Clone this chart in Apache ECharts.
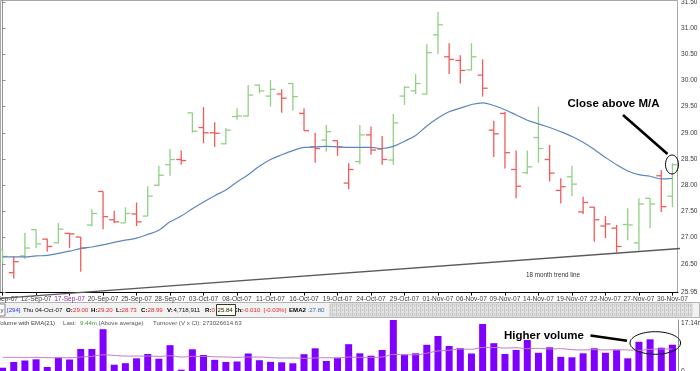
<!DOCTYPE html>
<html><head><meta charset="utf-8">
<script src="https://cdn.jsdelivr.net/npm/echarts@6/dist/echarts.min.js"></script>
<style>html,body{margin:0;padding:0;background:#fff}#c{width:700px;height:371px}</style>
</head><body><div id="c"></div>
<script>
// ---------- data ----------
const dates = ['07-Sep-07','10-Sep-07','11-Sep-07','12-Sep-07','13-Sep-07','14-Sep-07','17-Sep-07','18-Sep-07','19-Sep-07','20-Sep-07','21-Sep-07','24-Sep-07','25-Sep-07','26-Sep-07','27-Sep-07','28-Sep-07',
'01-Oct-07','02-Oct-07','03-Oct-07','04-Oct-07','05-Oct-07','08-Oct-07','09-Oct-07','10-Oct-07','11-Oct-07','12-Oct-07','15-Oct-07','16-Oct-07','17-Oct-07','18-Oct-07','19-Oct-07','22-Oct-07','23-Oct-07','24-Oct-07','25-Oct-07','26-Oct-07','29-Oct-07','30-Oct-07','31-Oct-07',
'01-Nov-07','02-Nov-07','05-Nov-07','06-Nov-07','07-Nov-07','08-Nov-07','09-Nov-07','12-Nov-07','13-Nov-07','14-Nov-07','15-Nov-07','16-Nov-07','19-Nov-07','20-Nov-07','21-Nov-07','22-Nov-07','23-Nov-07','26-Nov-07','27-Nov-07','28-Nov-07','29-Nov-07','30-Nov-07'];
const open  = [26.77,26.33,26.65,27.15,26.97,26.90,27.08,27.01,27.24,27.88,27.34,27.28,27.45,27.41,28.00,28.39,28.49,29.38,29.10,29.00,28.79,29.31,29.32,29.91,29.70,29.74,29.94,29.37,28.73,28.86,28.85,28.04,28.45,28.96,28.69,28.48,29.70,29.80,29.74,30.87,30.45,30.38,30.20,30.10,29.05,29.37,28.30,28.24,28.91,28.49,27.90,28.16,27.49,27.58,27.22,27.18,27.25,26.90,27.75,28.18,27.79];
const high  = [26.78,26.64,27.09,27.16,26.98,27.28,27.09,27.01,27.54,27.88,27.51,27.58,27.67,27.98,28.37,28.69,28.66,29.38,29.49,29.20,29.09,29.47,29.91,29.92,30.01,29.83,29.95,29.47,29.00,29.15,28.85,28.42,29.15,29.12,28.94,29.36,29.89,30.12,30.69,31.31,30.71,30.48,30.71,30.40,29.23,29.40,28.66,28.66,29.50,28.77,28.13,28.37,27.78,27.59,27.41,27.24,27.56,27.75,27.75,28.29,28.42];
const low   = [26.51,26.22,26.59,26.80,26.73,26.89,26.80,26.35,27.21,27.16,27.28,27.28,27.22,27.41,27.98,28.18,28.39,29.00,28.80,28.73,28.78,29.25,29.31,29.75,29.50,29.38,29.42,29.04,28.43,28.64,28.56,27.92,28.40,28.58,28.39,28.39,29.53,29.74,29.73,30.50,30.12,29.94,30.19,29.69,28.54,28.32,27.75,28.21,28.43,28.07,27.65,27.79,27.45,26.92,26.99,26.71,26.95,26.75,27.18,27.49,27.58];
const close = [26.64,26.54,26.80,26.88,26.83,27.16,27.07,26.80,27.46,27.40,27.30,27.46,27.30,27.79,28.19,28.49,28.47,29.03,29.00,28.99,29.05,29.32,29.72,29.80,29.83,29.66,29.69,29.04,28.70,29.02,28.73,28.30,28.96,28.67,28.49,29.19,29.87,29.94,30.53,31.06,30.40,30.19,30.45,29.85,28.98,28.62,27.98,28.35,28.70,28.23,27.97,28.02,27.67,27.34,27.26,26.83,27.24,27.64,27.64,27.59,28.39];
const ema21 = [26.63,26.63,26.63,26.65,26.66,26.70,26.74,26.79,26.82,26.86,26.91,26.95,26.99,27.06,27.14,27.30,27.41,27.55,27.68,27.80,27.91,28.06,28.20,28.36,28.49,28.58,28.66,28.72,28.73,28.74,28.73,28.72,28.72,28.72,28.70,28.74,28.84,28.95,29.13,29.28,29.40,29.47,29.54,29.57,29.52,29.44,29.34,29.24,29.17,29.10,29.02,28.93,28.82,28.68,28.53,28.39,28.27,28.20,28.17,28.12,28.13];
const volume = [2.27,4.05,4.52,4.89,2.49,5.39,4.83,8.10,8.10,14.27,3.21,3.68,5.20,6.54,5.08,9.29,1.65,8.01,6.23,4.72,4.05,4.21,6.70,4.61,4.11,3.96,3.65,6.48,8.32,4.36,5.39,9.60,6.76,6.01,7.79,17.14,6.39,6.76,9.41,12.15,9.04,8.35,6.70,15.89,9.91,6.54,7.79,10.91,6.92,8.63,5.67,5.52,6.76,8.32,6.92,7.73,5.20,10.35,11.12,8.51,9.44];
const volumeEma = [5.5,5.5,5.5,5.5,5.4,5.4,5.4,5.6,5.8,6.3,6.1,5.9,5.9,5.9,5.8,6.0,5.6,5.8,5.8,5.7,5.6,5.5,5.6,5.6,5.4,5.3,5.3,5.2,5.3,5.4,5.3,5.6,5.5,5.5,5.6,6.4,6.3,6.3,6.8,7.5,7.7,8.1,8.0,8.6,8.6,8.4,8.5,8.2,8.3,8.1,8.2,7.9,7.8,7.9,7.8,7.9,7.8,7.7,8.0,8.1,8.1];
const priceTicks = [25.95,26.5,27.0,27.5,28.0,28.5,29.0,29.5,30.0,30.5,31.0,31.5];
const volumeTicks = [0,17.14];
const trendX = [-0.23, 62.47];   // bar-index units
const trendP = [25.84, 26.82];

// ---------- styling ----------
const FONT = "'Liberation Sans', Arial, sans-serif";
const UP = '#92d084', DOWN = '#f25a5a';
const GL = -3, GR = 22;

const ohlcData = dates.map((d,i)=>[i, open[i], high[i], low[i], close[i]]);

function renderOHLC(params, api){
  const i = api.value(0);
  const o = api.value(1), h = api.value(2), l = api.value(3), c = api.value(4);
  const up = i === 0 ? true : c >= close[i-1];
  const col = up ? UP : DOWN;
  const pH = api.coord([i,h]), pL = api.coord([i,l]), pO = api.coord([i,o]), pC = api.coord([i,c]);
  const x = pH[0];
  const st = {stroke: col, lineWidth: 1.3};
  return {type:'group', children:[
    {type:'line', shape:{x1:x,y1:pH[1],x2:x,y2:pL[1]}, style:st},
    {type:'line', shape:{x1:x-5,y1:pO[1],x2:x,y2:pO[1]}, style:st},
    {type:'line', shape:{x1:x,y1:pC[1],x2:x+5,y2:pC[1]}, style:st}
  ]};
}

const chart = echarts.init(document.getElementById('c'), null, {renderer:'canvas'});

// hatched pattern for the info-bar scroller
const pat = document.createElement('canvas'); pat.width = 4; pat.height = 4;
(function(){const g = pat.getContext('2d'); g.fillStyle='#e4e4e4'; g.fillRect(0,0,4,4); g.fillStyle='#c4c4c4'; g.fillRect(0,0,1,4); g.fillRect(2,1,1,2);})();

const FS = '6.1px ';
function txt(x, y, s, opt){
  return Object.assign({type:'text', x:x, y:y, silent:true, z:10},
    {style:Object.assign({text:s, font:FS+FONT, fill:'#222', textVerticalAlign:'middle', textAlign:'left'}, opt||{})});
}
const bold = {font:'bold '+FS+FONT, fill:'#000'};
const red = {fill:'#e8262a'};

const graphics = [
  // price panel frame
  {type:'rect', shape:{x:0.5,y:0.5,width:677,height:292}, style:{fill:'none', stroke:'#a8a8a8', lineWidth:1}, silent:true, z:-1},
  // info bar
  {type:'rect', shape:{x:0.5,y:302.5,width:699,height:15}, style:{fill:'#f2f2f2', stroke:'#b4b4b4'}, silent:true},
  {type:'rect', shape:{x:330,y:304,width:362,height:12}, style:{fill:{image:pat, repeat:'repeat'}, stroke:'#c8c8c8'}, silent:true},
  {type:'rect', shape:{x:-2,y:304,width:7,height:12}, style:{fill:'#fafafa', stroke:'#888'}, silent:true},
  txt(0.5,310,'y',{fill:'#333'}),
  txt(7,310,'[294]',{fill:'#2a3cf0'}),
  txt(23,310,'Thu 04-Oct-07',{fill:'#111'}),
  txt(66,310,'O:',bold), txt(73,310,'29.00',red),
  txt(91,310,'H:',bold), txt(97.5,310,'29.20',red),
  txt(116,310,'L:',bold), txt(121.5,310,'28.73',red),
  txt(141,310,'C:',bold), txt(147.5,310,'28.99',red),
  txt(167,310,'V:',bold), txt(173.5,310,'4,718,911',{fill:'#111'}),
  txt(205,310,'R:',bold), txt(211.5,310,'0',red),
  txt(233,310,'Ch:',bold), txt(243,310,'-0.010',red), txt(263.5,310,'[-0.03%]',red),
  txt(289,310,'EMA2',bold), txt(307.5,310,':27.80',{fill:'#3a6ea8'}),
  {type:'rect', shape:{x:216.5,y:304.5,width:19,height:11}, style:{fill:'#fffff0', stroke:'#333'}, silent:true, z:11},
  Object.assign(txt(217.5,310,'25.84',{fill:'#222'}), {z:12}),
  // volume header
  txt(-3.5,323.5,'Volume with EMA(21)',{fill:'#444'}),
  txt(63,323.5,'Last:',{fill:'#555'}),
  txt(80,323.5,'9.44m',{fill:'#3aa03a'}),
  txt(98.5,323.5,'(Above average)',{fill:'#555'}),
  txt(153,323.5,'Turnover (V x Cl): 273026614.63',{fill:'#555'}),
  // annotations
  {type:'text', x:613.5, y:104, silent:true, z:20, style:{text:'Close above M/A', font:'bold 11.5px '+FONT, fill:'#000', textAlign:'center', textVerticalAlign:'middle'}},
  {type:'line', shape:{x1:623,y1:115,x2:667.5,y2:154}, style:{stroke:'#000', lineWidth:2.6}, silent:true, z:20},
  {type:'ellipse', shape:{cx:672,cy:164.5,rx:6.5,ry:9.5}, style:{fill:'none', stroke:'#000', lineWidth:1}, silent:true, z:20},
  {type:'text', x:553, y:275.5, silent:true, z:20, style:{text:'18 month trend line', font:'6.3px '+FONT, fill:'#333', textAlign:'center', textVerticalAlign:'middle'}},
  {type:'text', x:544, y:336, silent:true, z:20, style:{text:'Higher volume', font:'bold 11.5px '+FONT, fill:'#000', textAlign:'center', textVerticalAlign:'middle'}},
  {type:'line', shape:{x1:590.5,y1:335.5,x2:627,y2:340.8}, style:{stroke:'#000', lineWidth:2.6}, silent:true, z:20},
  {type:'ellipse', shape:{cx:655.3,cy:343,rx:25.3,ry:11.3}, style:{fill:'none', stroke:'#000', lineWidth:1}, silent:true, z:20}
];

const labelShown = (i) => i % 3 === 0;

const option = {
  animation:false,
  backgroundColor:'#fff',
  grid:[
    {left:GL, right:GR, top:0, height:292.6, outerBoundsMode:'none', containLabel:false},
    {left:GL, right:GR, top:320, height:55, outerBoundsMode:'none', containLabel:false}
  ],
  xAxis:[
    {type:'category', gridIndex:0, data:dates, boundaryGap:true,
     axisLine:{show:true, lineStyle:{color:'#000', width:1}},
     axisTick:{show:true, interval:(i)=>labelShown(i), alignWithLabel:true, length:3, lineStyle:{color:'#000'}},
     axisLabel:{interval:(i)=>labelShown(i), fontSize:6.6, fontFamily:FONT, margin:3,
       color:(v)=> v==='17-Sep-07' ? '#8a2a9a' : '#3a3a3a'},
     splitLine:{show:false}},
    {type:'value', gridIndex:0, min:-0.5, max:60.5, show:false},
    {type:'category', gridIndex:1, data:dates, boundaryGap:true, show:false}
  ],
  yAxis:[
    {type:'value', gridIndex:0, position:'right', min:25.95, max:31.534, scale:true,
     axisLine:{show:true, lineStyle:{color:'#909090'}},
     axisTick:{show:true, customValues:priceTicks, length:3, lineStyle:{color:'#909090'}},
     axisLabel:{customValues:priceTicks, formatter:(v)=>v.toFixed(2), fontSize:6.6, fontFamily:FONT, color:'#3a3a3a', margin:3},
     splitLine:{show:false}},
    {type:'value', gridIndex:1, position:'right', min:0, max:17.14,
     axisLine:{show:true, lineStyle:{color:'#909090'}},
     axisTick:{show:false},
     axisLabel:{customValues:volumeTicks, formatter:(v)=> v===0 ? '0' : v.toFixed(2)+'m', fontSize:6.6, fontFamily:FONT, color:'#3a3a3a', margin:3,
       verticalAlignMaxLabel:'top', verticalAlignMinLabel:'bottom'},
     splitLine:{show:false}}
  ],
  series:[
    {type:'line', name:'trend', xAxisIndex:1, yAxisIndex:0, data:trendX.map((x,i)=>[x,trendP[i]]),
     clip:false, symbol:'none', lineStyle:{color:'#5a5a5a', width:1.4}, z:3, silent:true},
    {type:'custom', name:'price', xAxisIndex:0, yAxisIndex:0, data:ohlcData, renderItem:renderOHLC,
     encode:{x:0, y:[1,2,3,4]}, z:4, silent:true},
    {type:'line', name:'EMA21', xAxisIndex:0, yAxisIndex:0, data:ema21, symbol:'none', smooth:0.35,
     lineStyle:{color:'#5b87bd', width:1.2}, z:5, silent:true},
    {type:'bar', name:'Volume', xAxisIndex:2, yAxisIndex:1, data:volume, barWidth:7,
     itemStyle:{color:'#7f00ff'}, silent:true, z:2},
    {type:'line', name:'VolEMA', xAxisIndex:2, yAxisIndex:1, data:volumeEma, symbol:'none', smooth:0.4,
     lineStyle:{color:'#c07ac8', width:1}, silent:true, z:3}
  ],
  graphic: graphics
};
chart.setOption(option);
</script></body></html>
